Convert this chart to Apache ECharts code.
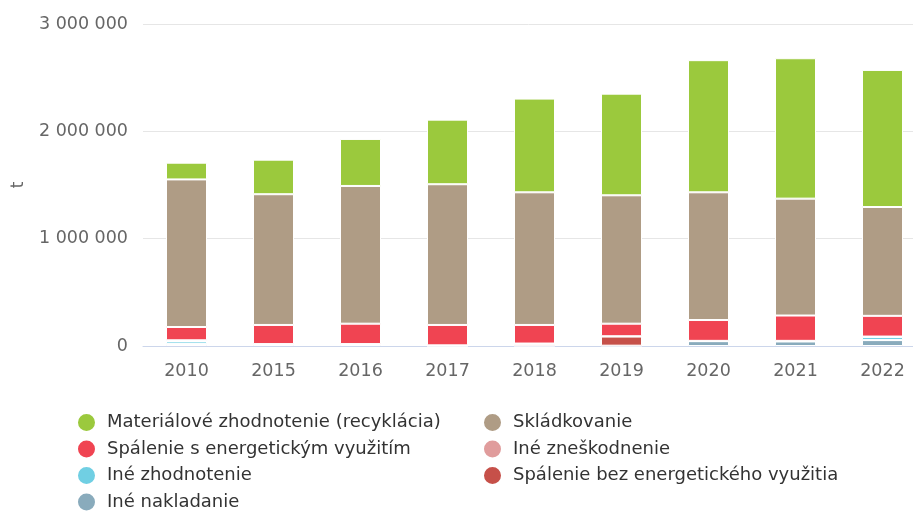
<!DOCTYPE html>
<html>
<head>
<meta charset="utf-8">
<script src="https://cdn.jsdelivr.net/npm/echarts@6/dist/echarts.min.js"></script>
<style>
  html, body { margin: 0; padding: 0; background: #fff; }
  #odpad { width: 913px; height: 513px; }
</style>
</head>
<body>
<div id="odpad"></div>
<script>
var years = ['2010', '2015', '2016', '2017', '2018', '2019', '2020', '2021', '2022'];

// tony, odčítané z grafu (od spodku stĺpca nahor)
var ineNakladanie   = [18000, 15000, 15000, 3000, 2000, 3000, 45000, 42000, 55000];
var spalenieBez     = [0, 0, 0, 0, 18000, 85000, 0, 0, 0];
var ineZhodnotenie  = [25000, 0, 0, 0, 0, 0, 0, 3000, 30000];
var ineZneskodnenie = [10000, 3000, 3000, 3000, 3000, 3000, 3000, 3000, 3000];
var spalenieS       = [124000, 178000, 190000, 190000, 173000, 117000, 194000, 236000, 193000];
var skladkovanie    = [1375000, 1218000, 1283000, 1311000, 1236000, 1196000, 1190000, 1089000, 1014000];
var recyklacia      = [156000, 322000, 438000, 602000, 873000, 947000, 1231000, 1308000, 1277000];

var yTicks = [0, 1000000, 2000000, 3000000];

var chartOdpad = echarts.init(document.getElementById('odpad'));

function fmt(v) {
  return String(v).replace(/\B(?=(\d{3})+(?!\d))/g, ' ');
}

function bar(name, color, data) {
  return {
    name: name,
    type: 'bar',
    stack: 'spolu',
    barWidth: 41,
    itemStyle: {
      color: color,
      borderColor: '#fff',
      borderWidth: 1
    },
    data: data
  };
}

var legendText = {
  color: '#333',
  fontSize: 18,
  fontFamily: 'DejaVu Sans',
  padding: [0, 0, 0, 6]
};

var chartOption = {
  animation: false,
  textStyle: { fontFamily: 'DejaVu Sans' },
  grid: {
    left: 143,
    width: 783,
    top: 24,
    bottom: 167,
    containLabel: false,
    outerBoundsMode: 'none'
  },
  legend: [{
    orient: 'vertical',
    left: 76,
    top: 412,
    height: 140,
    padding: 0,
    icon: 'circle',
    itemWidth: 19,
    itemHeight: 19,
    itemGap: 5.5,
    textStyle: legendText,
    data: ['Materiálové zhodnotenie (recyklácia)', 'Spálenie s energetickým využitím', 'Iné zhodnotenie', 'Iné nakladanie']
  }, {
    orient: 'vertical',
    left: 482,
    top: 412,
    height: 140,
    padding: 0,
    icon: 'circle',
    itemWidth: 19,
    itemHeight: 19,
    itemGap: 5.5,
    textStyle: legendText,
    data: ['Skládkovanie', 'Iné zneškodnenie', 'Spálenie bez energetického využitia']
  }],
  xAxis: {
    type: 'category',
    data: years,
    axisLine: { lineStyle: { color: '#ccd6eb', width: 1 } },
    axisTick: { show: false },
    axisLabel: { color: '#666', fontSize: 17.5, margin: 16 }
  },
  yAxis: {
    type: 'value',
    min: yTicks[0],
    max: yTicks[yTicks.length - 1],
    interval: yTicks[1] - yTicks[0],
    name: 't',
    nameLocation: 'middle',
    nameRotate: 90,
    nameGap: 116,
    nameTextStyle: { color: '#666', fontSize: 17 },
    axisLine: { show: false },
    axisTick: { show: false },
    splitLine: { lineStyle: { color: '#e6e6e6', width: 1 } },
    axisLabel: {
      color: '#666',
      fontSize: 17.5,
      margin: 15,
      formatter: function (v) { return fmt(v); }
    }
  },
  series: [
    bar('Iné nakladanie', '#89abbc', ineNakladanie),
    bar('Spálenie bez energetického využitia', '#c65049', spalenieBez),
    bar('Iné zhodnotenie', '#70cfe3', ineZhodnotenie),
    bar('Iné zneškodnenie', '#e09c9c', ineZneskodnenie),
    bar('Spálenie s energetickým využitím', '#f04452', spalenieS),
    bar('Skládkovanie', '#af9c85', skladkovanie),
    bar('Materiálové zhodnotenie (recyklácia)', '#9bc93d', recyklacia)
  ]
};

chartOdpad.setOption(chartOption);
</script>
</body>
</html>
